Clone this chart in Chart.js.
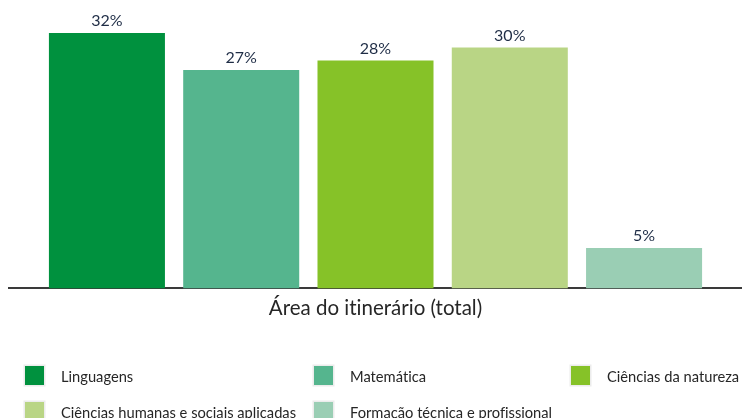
<!DOCTYPE html>
<html>
<head>
<meta charset="utf-8">
<script src="https://cdn.jsdelivr.net/npm/chart.js@4"></script>
<style>
  html, body { margin: 0; padding: 0; background: #fff; }
  body { width: 742px; height: 418px; position: relative; overflow: hidden; font-family: Lato, sans-serif; font-variant-ligatures: none; }
  #wrap { position: absolute; left: 0; top: 0; width: 742px; height: 321px; }
  #legend { position: absolute; left: 0; top: 0; width: 742px; height: 418px; }
  .item { position: absolute; height: 19px; display: flex; align-items: center; font-size: 14.7px; color: #262626; white-space: nowrap; }
  .box { width: 19px; height: 19px; box-shadow: 0 0 0 1.5px #ececec; margin-right: 17px; }
</style>
</head>
<body>
<div id="wrap"><canvas id="barChart_area"></canvas></div>
<div id="legend"></div>
<script>
/* dados do grafico */
let categorias = ['Área do itinerário (total)'];
let areas = ['Linguagens', 'Matemática', 'Ciências da natureza', 'Ciências humanas e sociais aplicadas', 'Formação técnica e profissional'];
let percentuais = [31.7, 27.1, 28.3, 29.9, 5.0];
let cores = ['rgb(0, 145, 62)', 'rgb(85, 181, 142)', 'rgb(134, 194, 40)', 'rgb(185, 213, 133)', 'rgb(154, 206, 180)'];

/* sem ligaduras no canvas (ti, fi) */
let semLigadura = {
    id: 'semLigadura',
    beforeDraw(chart) {
        chart.ctx.textRendering = 'optimizeSpeed';
    }
};

/* rotulos em cima das barras */
let rotulos = {
    id: 'rotulos',
    afterDatasetsDraw(chart) {
        let ctx = chart.ctx;
        ctx.save();
        ctx.font = '16px Lato, sans-serif';
        ctx.fillStyle = '#1f2d46';
        ctx.textAlign = 'center';
        ctx.textBaseline = 'bottom';
        chart.data.datasets.forEach((ds, i) => {
            chart.getDatasetMeta(i).data.forEach((bar, j) => {
                ctx.fillText(Math.round(ds.data[j]) + '%', bar.x, bar.y - 4);
            });
        });
        ctx.restore();
    }
};

let myChart_area = document.getElementById('barChart_area').getContext('2d');
let areaChart = new Chart(myChart_area, {
    type: 'bar',
    data: {
        labels: categorias,
        datasets: areas.map((nome, i) => ({
            label: nome,
            data: [percentuais[i]],
            backgroundColor: cores[i],
            categoryPercentage: 0.916,
            barPercentage: 0.864
        }))
    },
    options: {
        responsive: true,
        maintainAspectRatio: false,
        animation: false,
        layout: { padding: { left: 9, right: 0, top: 0, bottom: 0 } },
        plugins: {
            legend: { display: false },
            tooltip: { enabled: false }
        },
        scales: {
            x: {
                grid: { display: false },
                border: { display: true, color: '#3a3a3a', width: 2 },
                ticks: { color: '#262626', font: { family: 'Lato, sans-serif', size: 20.5 }, padding: 0 }
            },
            y: {
                display: false,
                min: 0,
                max: 35.8
            }
        }
    },
    plugins: [semLigadura, rotulos]
});

/* legenda em colunas */
let colunas = [25, 314, 571];
let linhas = [366, 402];
let legenda = document.getElementById('legend');
areas.forEach((nome, i) => {
    let item = document.createElement('div');
    item.className = 'item';
    item.style.left = colunas[i % 3] + 'px';
    item.style.top = linhas[Math.floor(i / 3)] + 'px';
    let box = document.createElement('span');
    box.className = 'box';
    box.style.background = cores[i];
    item.appendChild(box);
    item.appendChild(document.createTextNode(nome));
    legenda.appendChild(item);
});
</script>
</body>
</html>
